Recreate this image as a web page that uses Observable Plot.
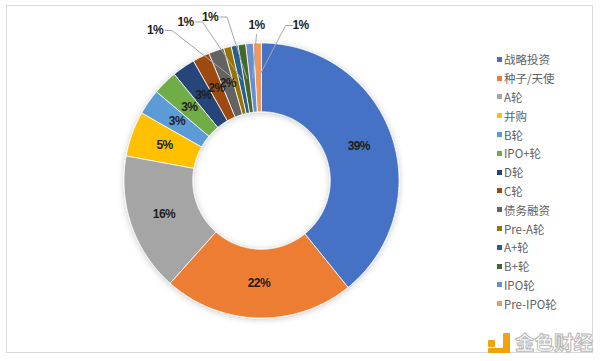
<!DOCTYPE html>
<html><head><meta charset="utf-8">
<script src="https://cdn.jsdelivr.net/npm/d3@7"></script>
<script src="https://cdn.jsdelivr.net/npm/@observablehq/plot@0.6"></script>
<style>
html,body{margin:0;padding:0;background:#fff}
body{width:600px;height:361px;overflow:hidden;position:relative;font-family:"Noto Sans CJK SC","Noto Sans",sans-serif}
#frame{position:absolute;left:6px;top:5px;width:587px;height:348px;border:1.5px solid #d9d9d9;box-sizing:border-box}
#chart{position:absolute;left:0;top:0}
#legend{position:absolute;left:497px;top:50px}
#legend .lg-swatches{font-family:"Noto Sans CJK SC",sans-serif;font-size:11.5px;color:#5f5f5f;margin:0;columns:1}
#legend .lg-swatch{display:flex;align-items:center;height:18.8px;padding:0 !important;margin:0 !important;width:auto !important}
#legend .lg-swatch::before{content:none !important;margin:0 !important}
#legend .lg-swatch svg{margin-right:2px !important}
#wm{position:absolute;left:486px;top:331px;width:110px;height:24px}
#wm .sq{position:absolute;left:2px;top:9px;width:7px;height:7px;background:#f2a20c;border-radius:1px}
#wm .bv{position:absolute;left:17px;top:2px;width:7px;height:20px;background:#f2a20c;border-radius:1px}
#wm .bh{position:absolute;left:2px;top:17px;width:22px;height:5px;background:#f2a20c;border-radius:1px}
#wm .txt{position:absolute;left:29px;top:-1px;font-size:19.5px;line-height:24px;color:#fff;-webkit-text-stroke:1px #b8b8b8;letter-spacing:0px;font-family:"Noto Sans CJK SC",sans-serif;font-weight:bold}
#chart text.pct{letter-spacing:-0.6px}
</style></head><body>
<div id="frame"></div>
<div id="chart"></div>
<div id="legend"></div>
<div id="wm"><i class="sq"></i><i class="bv"></i><i class="bh"></i><span class="txt">金色财经</span></div>
<script>
// ---- data ----
const categories = ["战略投资","种子/天使","A轮","并购","B轮","IPO+轮","D轮","C轮","债务融资","Pre-A轮","A+轮","B+轮","IPO轮","Pre-IPO轮"];
const shares = [39.2, 22.4, 16.3, 5.3, 3.0, 2.9, 2.7, 2.0, 1.8, 0.9, 0.8, 0.9, 0.9, 0.9];
const colors = ["#4472C4","#ED7D31","#A5A5A5","#FFC000","#5B9BD5","#70AD47","#264478","#9E480E","#636363","#997300","#255E91","#43682B","#698ED0","#F1975A"];
// callout label placement (pixels from donut centre, y up) for the small slices
const calloutPos = [[-106.5,150],[-76,158.5],[-51.5,163.5],[-5,155],[39,155]];

// ---- layout ----
const R = 137.5;            // outer radius in px
const cx = 261, cy = 180;   // donut centre in px
const inner = 0.5, midR = 0.75;
const total = d3.sum(shares);

// build slice polygons
const slicePts = [];
const labels = [];
let cum = 0;
shares.forEach((v, i) => {
  const a0 = cum / total * 2 * Math.PI, a1 = (cum + v) / total * 2 * Math.PI;
  cum += v;
  const n = Math.max(2, Math.ceil((a1 - a0) / 0.01));
  for (let k = 0; k <= n; k++) { const a = a0 + (a1 - a0) * k / n; slicePts.push({name: categories[i], x: Math.sin(a), y: Math.cos(a)}); }
  for (let k = n; k >= 0; k--) { const a = a0 + (a1 - a0) * k / n; slicePts.push({name: categories[i], x: inner * Math.sin(a), y: inner * Math.cos(a)}); }
  const am = (a0 + a1) / 2;
  labels.push({name: categories[i], text: Math.round(v) + "%", ax: midR * Math.sin(am), ay: midR * Math.cos(am), small: v < 1.5});
});

// callouts
const leaders = [];
let ci = 0;
labels.forEach(l => {
  if (!l.small) { l.x = l.ax; l.y = l.ay; return; }
  const [px, py] = calloutPos[ci++];
  l.x = px / R; l.y = py / R;
  const axp = l.ax * R;
  if (Math.abs(px - axp) < 10) {
    leaders.push({id: l.name, x: px / R, y: (py - 9) / R});
  } else if (px < axp) {
    leaders.push({id: l.name, x: (px + 10) / R, y: py / R});
    leaders.push({id: l.name, x: (px + 17) / R, y: py / R});
  } else {
    leaders.push({id: l.name, x: (px - 8) / R, y: py / R});
    leaders.push({id: l.name, x: (px - 15) / R, y: py / R});
  }
  leaders.push({id: l.name, x: l.ax, y: l.ay});
});

const chart = Plot.plot({
  width: 600, height: 361,
  marginLeft: cx - R, marginRight: 600 - (cx + R),
  marginTop: cy - R, marginBottom: 361 - (cy + R),
  x: {domain: [-1, 1], axis: null},
  y: {domain: [-1, 1], axis: null},
  color: {domain: categories, range: colors},
  style: {background: "transparent", overflow: "visible"},
  marks: [
    Plot.line(slicePts, {x: "x", y: "y", z: "name", fill: "name", stroke: "#fff", strokeWidth: 0.8, curve: "linear-closed"}),
    Plot.line(leaders, {x: "x", y: "y", z: "id", stroke: "#a6a6a6", strokeWidth: 1}),
    Plot.text(labels, {x: "x", y: "y", text: "text", fill: "#1e1e1e", fontSize: 12, fontWeight: "bold", fontFamily: "'Liberation Sans',Arial,sans-serif"})
  ]
});
document.getElementById("chart").appendChild(chart);

const svg = d3.select(chart);
svg.selectAll('g[aria-label="text"] text').classed("pct", true);

// soft shadow under the ring
const defs = svg.insert("defs", ":first-child");
const f = defs.append("filter").attr("id", "ringShadow").attr("x", "-20%").attr("y", "-20%").attr("width", "140%").attr("height", "140%");
f.append("feDropShadow").attr("dx", 0).attr("dy", 1).attr("stdDeviation", 3).attr("flood-color", "#000").attr("flood-opacity", 0.22);
svg.select('g[aria-label="line"]').attr("filter", "url(#ringShadow)");

const legend = Plot.legend({
  color: {type: "categorical", domain: categories, range: colors},
  legend: "swatches", columns: 1, swatchSize: 5, className: "lg"
});
document.getElementById("legend").appendChild(legend);
</script>
</body></html>
